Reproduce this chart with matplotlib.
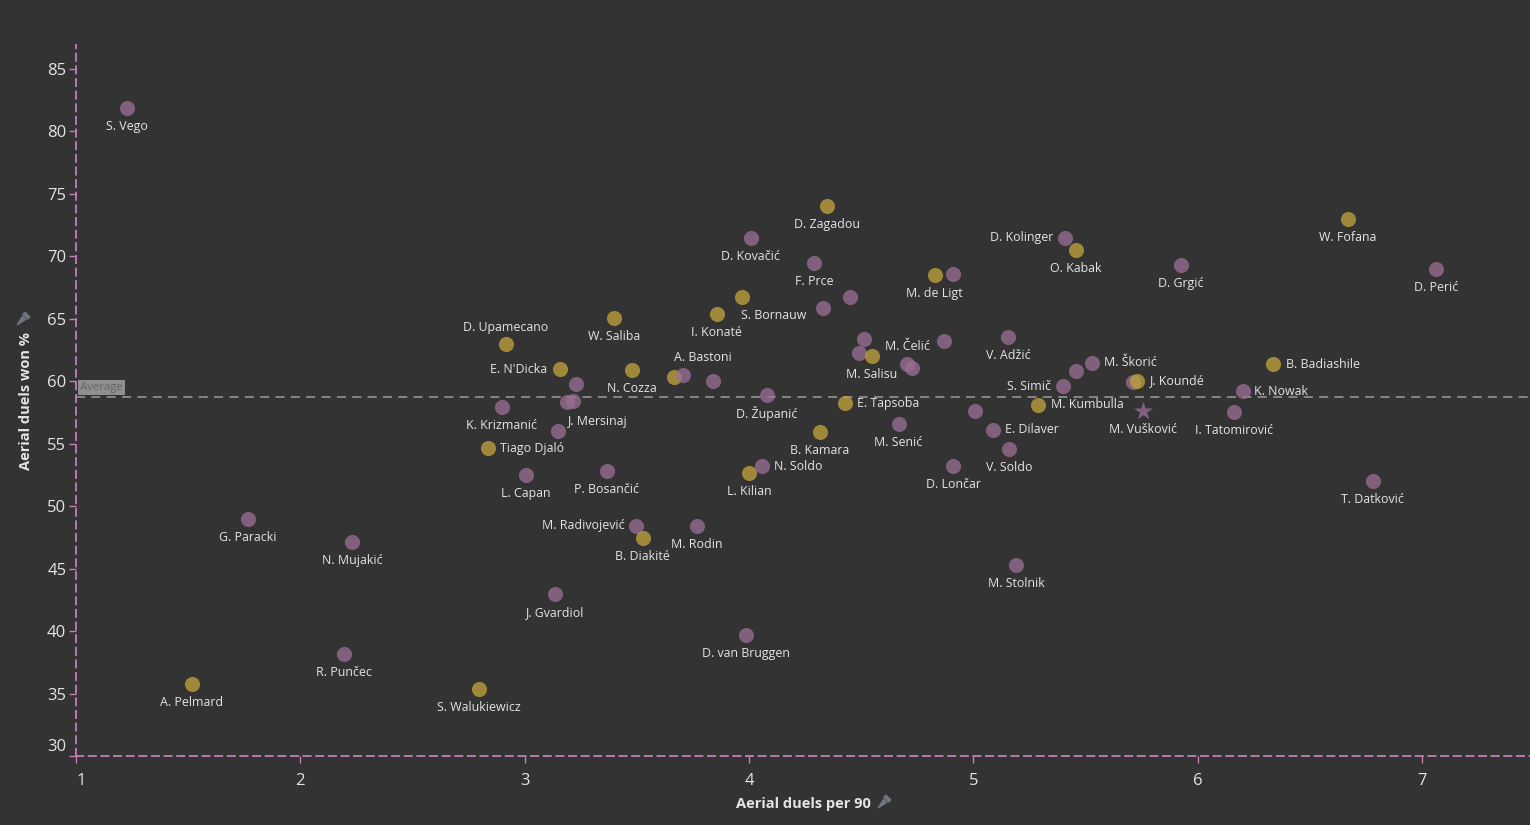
import matplotlib
matplotlib.use("Agg")
import matplotlib.pyplot as plt
from matplotlib.lines import Line2D
from matplotlib.path import Path
from matplotlib.transforms import ScaledTranslation

plt.rcParams['font.family'] = ['Open Sans', 'DejaVu Sans']

# players: name, aerial duels per 90, aerial duels won %, highlighted (gold) or not
players = ["S. Vego", "G. Paracki", "A. Pelmard", "N. Mujakić", "R. Punčec",
           "S. Walukiewicz", "J. Gvardiol", "D. van Bruggen", "M. Radivojević", "B. Diakité",
           "M. Rodin", "M. Stolnik", "L. Capan", "P. Bosančić", "Tiago Djaló",
           "K. Krizmanić", "", "", "J. Mersinaj", "",
           "E. N'Dicka", "D. Upamecano", "W. Saliba", "N. Cozza", "A. Bastoni",
           "", "", "I. Konaté", "S. Bornauw", "D. Kovačić",
           "D. Zagadou", "F. Prce", "", "", "D. Županić",
           "B. Kamara", "N. Soldo", "L. Kilian", "E. Tapsoba", "",
           "", "M. Salisu", "", "", "M. Čelić",
           "M. Senić", "M. de Ligt", "", "", "D. Lončar",
           "E. Dilaver", "V. Soldo", "V. Adžić", "D. Kolinger", "O. Kabak",
           "S. Simič", "", "M. Škorić", "M. Kumbulla", "",
           "J. Koundé", "M. Vušković", "I. Tatomirović", "K. Nowak", "B. Badiashile",
           "W. Fofana", "D. Grgić", "D. Perić", "T. Datković"]

duels_90 = [1.227, 1.765, 1.516, 2.232, 2.193,
            2.797, 3.134, 3.987, 3.497, 3.526,
            3.767, 5.191, 3.005, 3.366, 2.835,
            2.898, 3.148, 3.188, 3.217, 3.228,
            3.156, 2.916, 3.397, 3.477, 3.666,
            3.706, 3.838, 3.856, 3.968, 4.008,
            4.347, 4.289, 4.329, 4.449, 4.079,
            4.317, 4.057, 4.000, 4.427, 4.515,
            4.489, 4.547, 4.706, 4.727, 4.868,
            4.667, 4.828, 4.909, 5.008, 4.911,
            5.088, 5.160, 5.157, 5.409, 5.457,
            5.399, 5.457, 5.530, 5.287, 5.711,
            5.729, 5.758, 6.161, 6.203, 6.338,
            6.670, 5.927, 7.063, 6.781]

won_pct = [81.82, 49.0, 35.74, 47.1, 38.16,
           35.35, 42.93, 39.68, 48.44, 47.43,
           48.39, 45.27, 52.46, 52.84, 54.62,
           57.95, 56.03, 58.29, 58.37, 59.78,
           60.98, 63.0, 65.08, 60.93, 60.35,
           60.5, 60.05, 65.37, 66.76, 71.47,
           74.03, 69.47, 65.88, 66.76, 58.9,
           55.9, 53.18, 52.62, 58.21, 63.4,
           62.28, 62.04, 61.38, 61.09, 63.24,
           56.59, 68.52, 68.6, 57.57, 53.24,
           56.11, 54.6, 63.56, 71.47, 70.49,
           59.65, 60.82, 61.49, 58.11, 59.97,
           60.05, 57.57, 57.55, 59.25, 61.38,
           72.99, 69.3, 68.97, 52.04]

gold = {"A. Pelmard", "S. Walukiewicz", "B. Diakité", "Tiago Djaló", "E. N'Dicka",
        "D. Upamecano", "W. Saliba", "N. Cozza", "A. Bastoni", "I. Konaté",
        "S. Bornauw", "D. Zagadou", "B. Kamara", "L. Kilian", "E. Tapsoba",
        "M. Salisu", "M. de Ligt", "O. Kabak", "M. Kumbulla", "J. Koundé",
        "B. Badiashile", "W. Fofana"}
target = "M. Vušković"
avg_won = 58.77

# label placement (pixel offsets from the point), default is centred below
place = {
    "Tiago Djaló": (12, 0, "left"), "N. Soldo": (12, 0, "left"),
    "E. Tapsoba": (12, 0, "left"), "E. Dilaver": (12, 0, "left"),
    "M. Škorić": (12, 0, "left"), "M. Kumbulla": (13, 0, "left"),
    "J. Koundé": (12, 0, "left"), "K. Nowak": (11, -1, "left"),
    "B. Badiashile": (13, -1, "left"),
    "E. N'Dicka": (-12, -1, "right"), "D. Kolinger": (-12, 0, "right"),
    "S. Simič": (-12, -1, "right"), "M. Radivojević": (-11, 0, "right"),
    "M. Čelić": (-14, -6, "right"),
    "D. Upamecano": (0, 16, "center"), "A. Bastoni": (29, 19, "center"),
    "S. Bornauw": (32, -19, "center"), "J. Mersinaj": (24, -20, "center"),
}

purple_c = "#9b7095"
gold_c = "#c4a63c"
bg = "#333333"
pink = "#c47fb8"
txt = "#e4e4e4"

fig = plt.figure(figsize=(15.3, 8.25), dpi=100, facecolor=bg)
ax = fig.add_axes([76 / 1530, 69 / 825, 1 - 76 / 1530, (756 - 45) / 825])
ax.set_facecolor(bg)

for name, x, y in zip(players, duels_90, won_pct):
    c = gold_c if name in gold else purple_c
    if name == target:
        ax.scatter(x, y, s=200, marker="*", color=c, alpha=0.75, linewidths=0, zorder=3)
    else:
        ax.scatter(x, y, s=118, color=c, alpha=0.75, linewidths=0, zorder=3)
    if name:
        dx, dy, ha = place.get(name, (0, -18.5, "center"))
        ax.annotate(name, (x, y), xytext=(dx * 0.72, dy * 0.72), textcoords="offset points",
                    ha=ha, va="center", fontsize=8.9, color=txt, zorder=4)

ax.axhline(avg_won, color="#8c8c8c", lw=1.3, ls=(0, (5, 3.5)), zorder=1)
ax.text(0.003, avg_won + 0.25, "Average", transform=ax.get_yaxis_transform(),
        fontsize=8.2, color="#666666", va="bottom", ha="left",
        bbox=dict(boxstyle="square,pad=0.18", fc="#8f8f8f", ec="none"), zorder=2)

ax.set_xlim(1.0, 7.482)
ax.set_ylim(30.0, 86.9)
ax.set_xticks(range(1, 8))
ax.set_yticks(range(30, 90, 5))

for side in ["top", "right"]:
    ax.spines[side].set_visible(False)
for side in ["left", "bottom"]:
    ax.spines[side].set_color(pink)
    ax.spines[side].set_linestyle((0, (4, 3)))
    ax.spines[side].set_linewidth(1.3)

ax.tick_params(colors=pink, labelcolor=txt, labelsize=12, length=5, width=1)
ax.tick_params(axis="y", pad=2)
ax.tick_params(axis="x", pad=7)

# nudge the corner labels away from the axes crossing
fig.canvas.draw()
ylabs = ax.get_yticklabels()
ylabs[0].set_transform(ylabs[0].get_transform() + ScaledTranslation(0, 0.11, fig.dpi_scale_trans))
xlabs = ax.get_xticklabels()
xlabs[0].set_transform(xlabs[0].get_transform() + ScaledTranslation(0.05, 0, fig.dpi_scale_trans))

ax.set_xlabel("Aerial duels per 90", fontsize=10.5, fontweight="bold", color=txt, labelpad=6)
ax.set_ylabel("Aerial duels won %", fontsize=10.5, fontweight="bold", color=txt, labelpad=10)

# small pin icons next to the axis titles
pin = Path([(-1, -1), (-0.15, 0.35), (0.35, -0.15), (-1, -1),
            (-0.1, 0.7), (0.7, -0.1), (1.0, 0.25), (0.25, 1.0), (-0.1, 0.7)],
           [Path.MOVETO, Path.LINETO, Path.LINETO, Path.CLOSEPOLY,
            Path.MOVETO, Path.LINETO, Path.LINETO, Path.LINETO, Path.CLOSEPOLY])
for px, py in [(884, 801), (23, 318)]:
    fig.add_artist(Line2D([px / 1530], [1 - py / 825], marker=pin, markersize=9,
                          color="#6f7680", lw=0, transform=fig.transFigure))

fig.savefig("out.png", dpi=100, facecolor=bg)
